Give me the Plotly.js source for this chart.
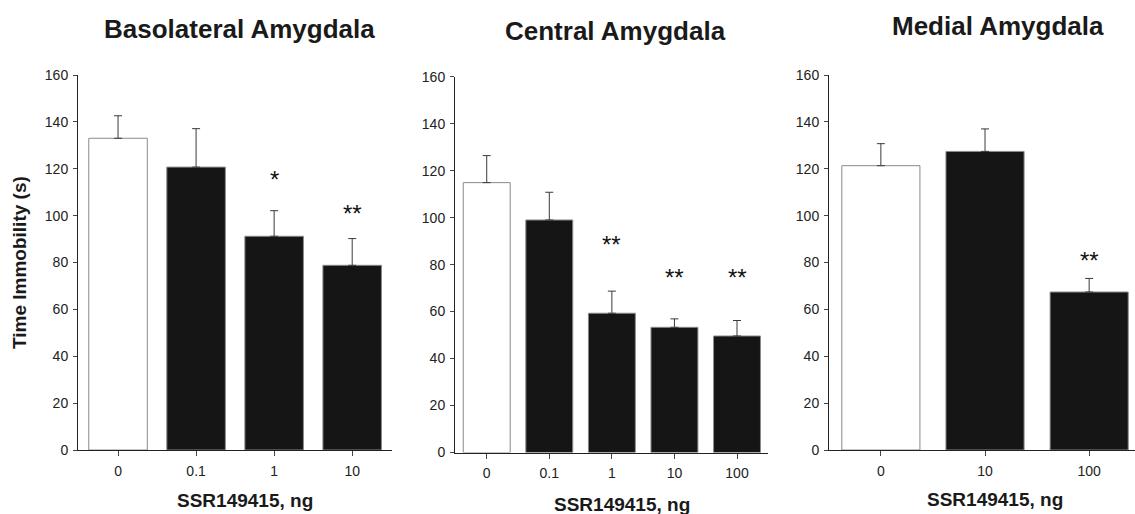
<!DOCTYPE html>
<html>
<head>
<meta charset="utf-8">
<script src="https://cdn.plot.ly/plotly-3.0.1.min.js"></script>
<style>html,body{margin:0;padding:0;background:#fff;}#chart{width:1135px;height:514px;}</style>
</head>
<body>
<div id="chart"></div>
<script>
// ---- data ----
const panelTitles = ['Basolateral Amygdala', 'Central Amygdala', 'Medial Amygdala'];
const xTitle = 'SSR149415, ng';
const yTitle = 'Time Immobility (s)';

const blaDoses = ['0', '0.1', '1', '10'];
const blaMeans = [133.0, 120.7, 91.2, 78.8];
const blaSem   = [9.6, 16.4, 10.9, 11.4];
const blaSig   = ['', '', '*', '**'];
const blaSigY  = [0, 0, 116.9, 102.4];

const ceaDoses = ['0', '0.1', '1', '10', '100'];
const ceaMeans = [114.9, 99.0, 59.3, 53.3, 49.6];
const ceaSem   = [11.5, 11.8, 9.4, 3.6, 6.6];
const ceaSig   = ['', '', '**', '**', '**'];
const ceaSigY  = [0, 0, 89.7, 75.8, 75.8];

const meaDoses = ['0', '10', '100'];
const meaMeans = [121.3, 127.4, 67.4];
const meaSem   = [9.4, 9.6, 5.8];
const meaSig   = ['', '', '**'];
const meaSigY  = [0, 0, 82.0];

const yTicks = [0, 20, 40, 60, 80, 100, 120, 140, 160];

// ---- drawing ----
const W = 1135, H = 514;
const FONT = '"Liberation Sans", Arial, Helvetica, sans-serif';
const panels = [
  {doses: blaDoses, means: blaMeans, sem: blaSem, sig: blaSig, sigY: blaSigY, ax: ''},
  {doses: ceaDoses, means: ceaMeans, sem: ceaSem, sig: ceaSig, sigY: ceaSigY, ax: '2'},
  {doses: meaDoses, means: meaMeans, sem: meaSem, sig: meaSig, sigY: meaSigY, ax: '3'}
];

const traces = panels.map(p => ({
  type: 'bar',
  x: p.doses,
  y: p.means,
  xaxis: 'x' + p.ax,
  yaxis: 'y' + p.ax,
  width: 0.75,
  marker: {
    color: p.doses.map((d, i) => i === 0 ? '#ffffff' : '#151515'),
    line: {color: '#8a8a8a', width: 1}
  },
  error_y: {
    type: 'data', symmetric: false,
    array: p.sem, arrayminus: p.sem.map(() => 0),
    color: '#3a3a3a', thickness: 1, width: 4
  },
  hoverinfo: 'skip',
  showlegend: false
}));

// pixel geometry of each panel
const geom = [
  {x0: 78,  x1: 392,    y0: 450,   y1: 75,   range: [-0.513, 3.51]},
  {x0: 455, x1: 768.3,  y0: 452.5, y1: 76.7, range: [-0.507, 4.5]},
  {x0: 829, x1: 1135,   y0: 450,   y1: 75,   range: [-0.498, 2.44]}
];

const layout = {
  width: W, height: H,
  margin: {l: 0, r: 0, t: 0, b: 0},
  paper_bgcolor: '#ffffff', plot_bgcolor: 'rgba(0,0,0,0)',
  font: {family: FONT, size: 14, color: '#222'},
  showlegend: false,
  annotations: []
};

geom.forEach((g, i) => {
  const s = i === 0 ? '' : String(i + 1);
  layout['xaxis' + s] = {
    domain: [g.x0 / W, g.x1 / W],
    range: g.range,
    type: 'category',
    anchor: 'y' + s,
    showgrid: false, zeroline: false,
    showline: true, linecolor: '#222', linewidth: 1,
    ticks: 'outside', ticklen: 5, tickcolor: '#444', tickwidth: 1,
    tickfont: {family: FONT, size: 14, color: '#222'},
    ticklabelstandoff: 3,
    fixedrange: true
  };
  layout['yaxis' + s] = {
    domain: [1 - g.y0 / H, 1 - g.y1 / H],
    range: [0, 160],
    anchor: 'x' + s,
    tickvals: yTicks,
    ticktext: yTicks.map(String),
    showgrid: false, zeroline: false,
    showline: true, linecolor: '#222', linewidth: 1,
    ticks: 'outside', ticklen: 4, tickcolor: '#444', tickwidth: 1,
    tickfont: {family: FONT, size: 14, color: '#222'},
    ticklabelstandoff: 2,
    fixedrange: true
  };
});

// significance stars (x given as category index so numeric-looking labels are not misread)
panels.forEach(p => {
  p.sig.forEach((t, i) => {
    if (!t) return;
    layout.annotations.push({
      xref: 'x' + p.ax, yref: 'y' + p.ax,
      x: i, y: p.sigY[i],
      text: t, showarrow: false,
      xanchor: 'center', yanchor: 'middle', yshift: -3,
      font: {family: FONT, size: 24, color: '#111'}
    });
  });
});

// panel titles
const titlePos = [[239, 29], [615, 30.5], [998, 26]];
panelTitles.forEach((t, i) => {
  layout.annotations.push({
    xref: 'paper', yref: 'paper',
    x: titlePos[i][0] / W, y: 1 - titlePos[i][1] / H,
    text: '<b>' + t + '</b>', showarrow: false,
    xanchor: 'center', yanchor: 'middle',
    font: {family: FONT, size: 26, color: '#1a1a1a'}
  });
});

// x-axis titles
const xTitlePos = [[245, 500], [622, 504], [995, 499]];
xTitlePos.forEach(pos => {
  layout.annotations.push({
    xref: 'paper', yref: 'paper',
    x: pos[0] / W, y: 1 - pos[1] / H,
    text: '<b>' + xTitle + '</b>', showarrow: false,
    xanchor: 'center', yanchor: 'middle',
    font: {family: FONT, size: 19, color: '#1a1a1a'}
  });
});

// y-axis title
layout.annotations.push({
  xref: 'paper', yref: 'paper',
  x: 19 / W, y: 1 - 263 / H,
  text: '<b>' + yTitle + '</b>', showarrow: false, textangle: -90,
  xanchor: 'center', yanchor: 'middle',
  font: {family: FONT, size: 19, color: '#1a1a1a'}
});

Plotly.newPlot('chart', traces, layout, {staticPlot: true, displayModeBar: false});
</script>
</body>
</html>
